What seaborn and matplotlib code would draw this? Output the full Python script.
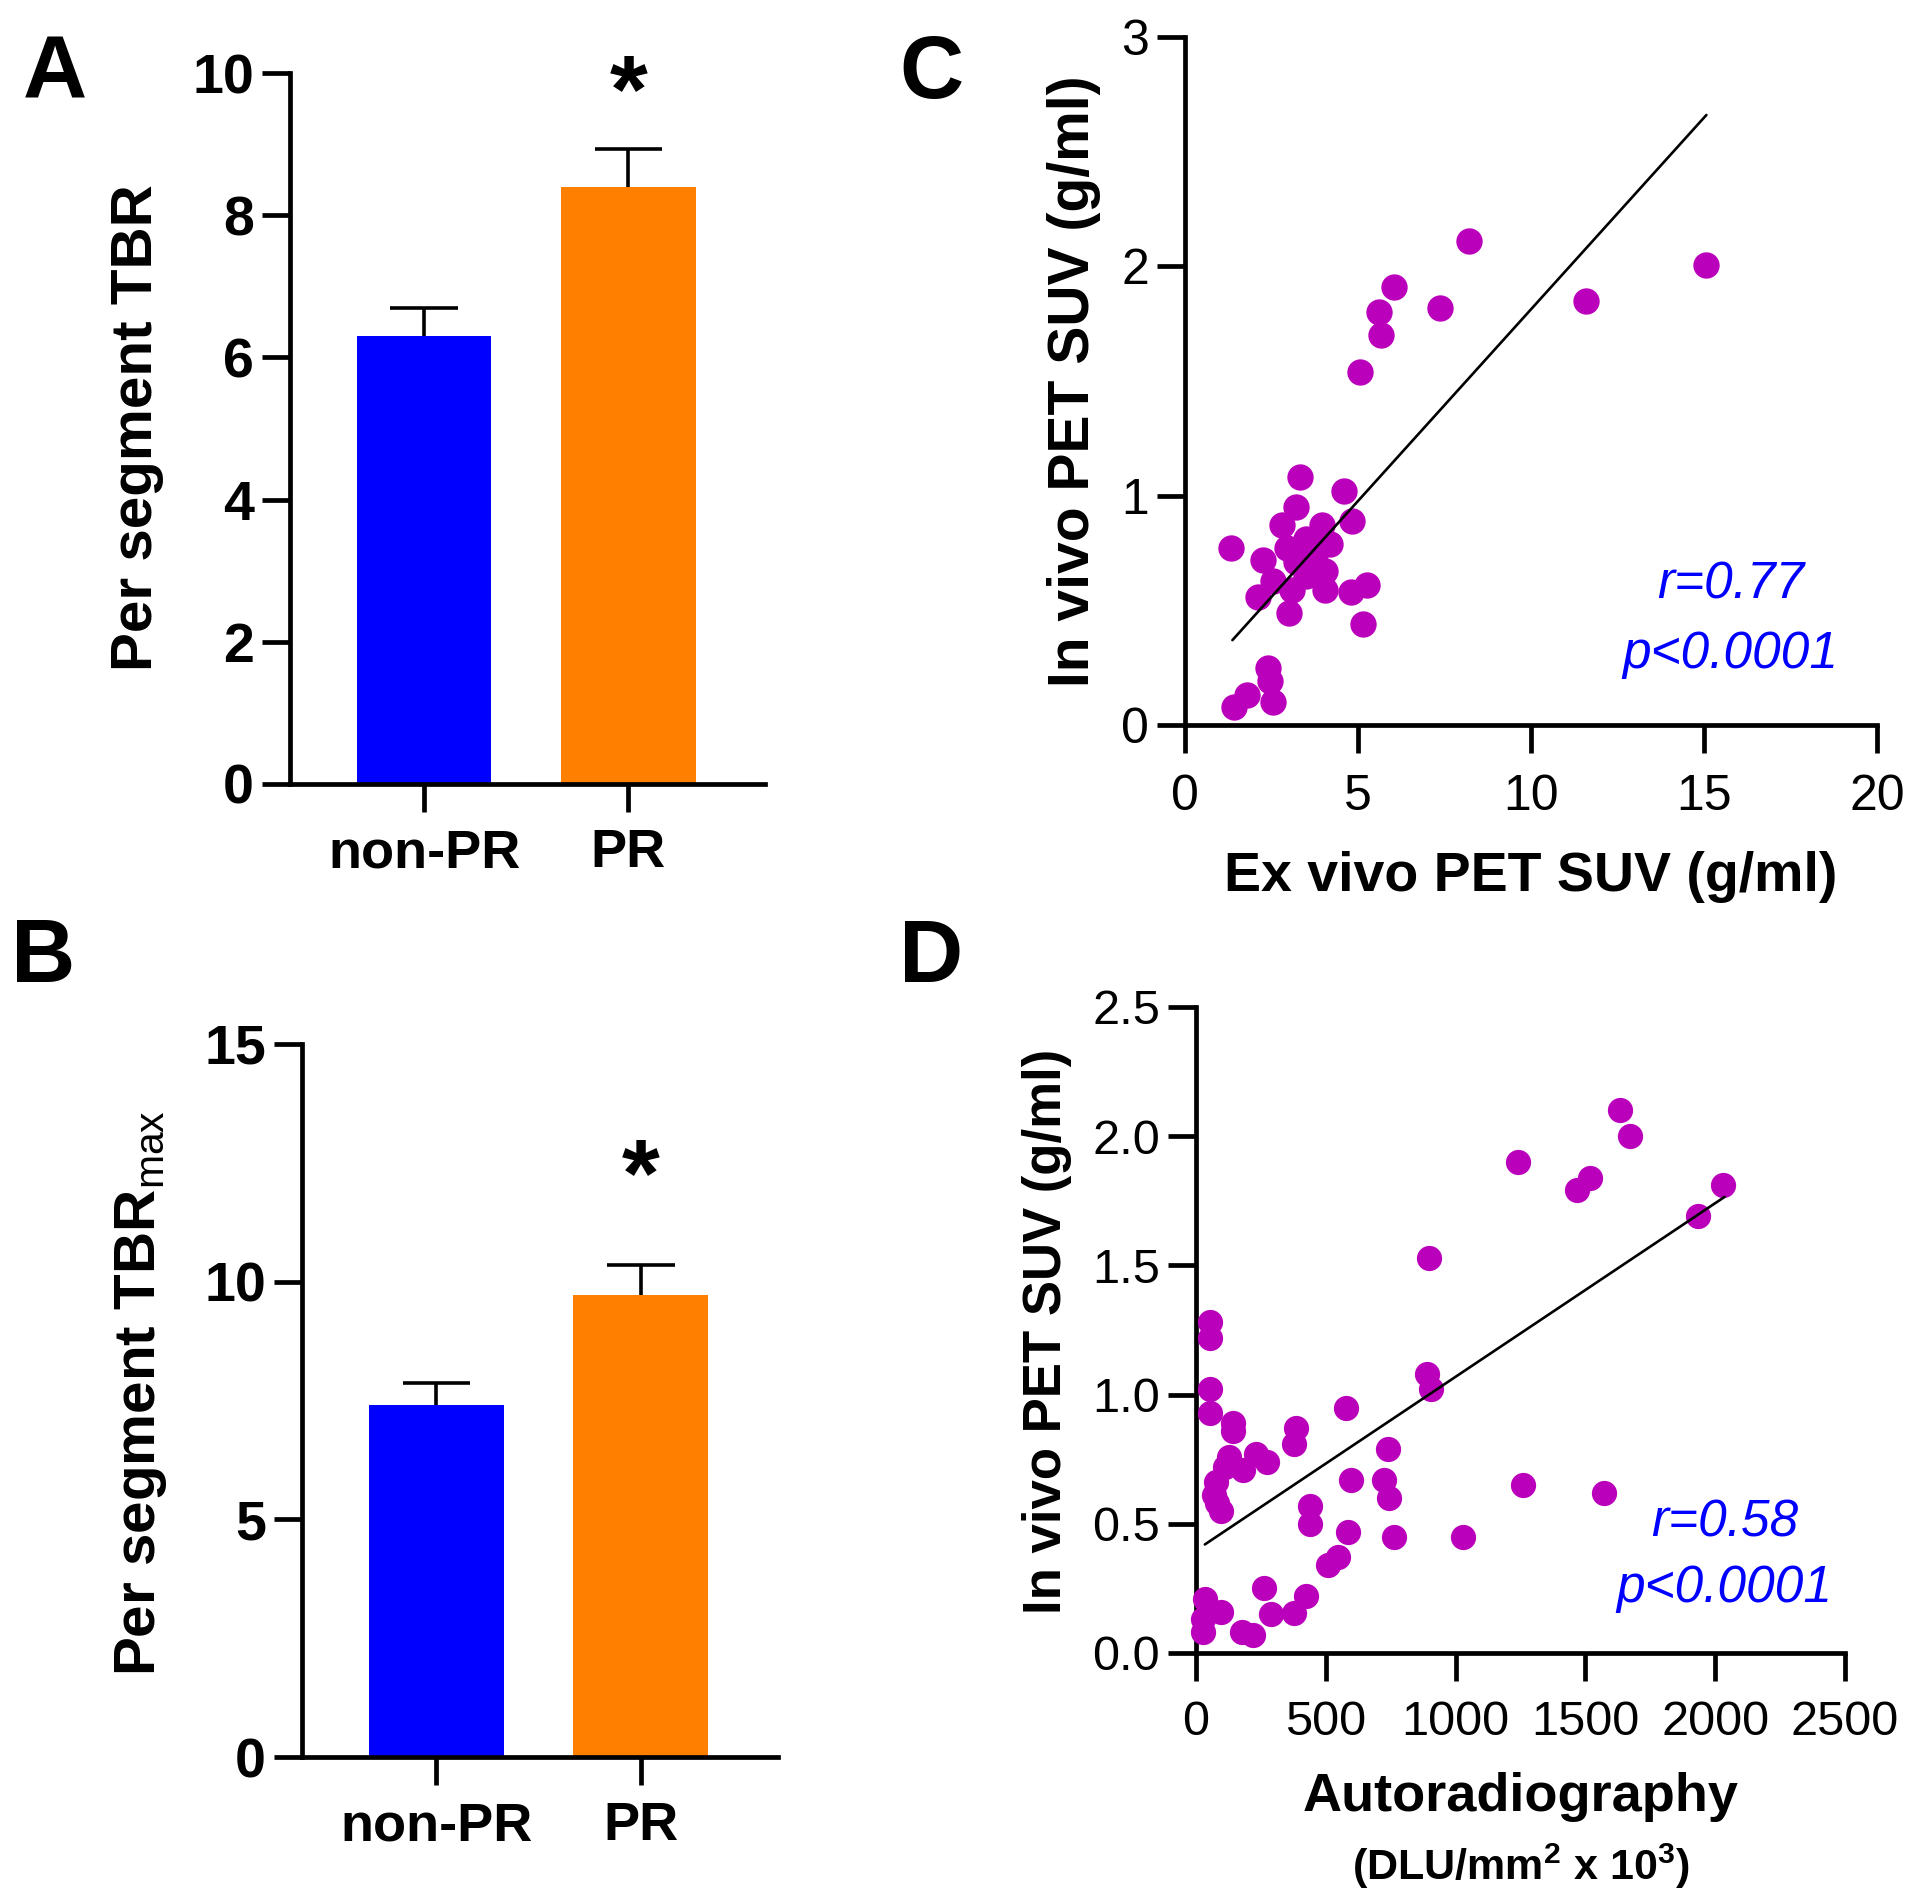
import numpy as np
import pandas as pd
import matplotlib
matplotlib.use("Agg")
import matplotlib.pyplot as plt
import seaborn as sns

# ---------------- data ----------------
categories = ["non-PR", "PR"]
tbr_mean = [6.30, 8.40]
tbr_sem = [0.40, 0.53]
tbrmax_mean = [7.40, 9.73]
tbrmax_sem = [0.47, 0.62]
bar_colors = ["#0000FF", "#FF7F00"]

# Panel C: ex vivo vs in vivo PET SUV
c_x = [8.22, 15.07, 11.58, 6.03, 5.62, 5.66, 7.38, 5.07, 3.32, 4.59, 3.22, 4.84,
       1.34, 2.81, 3.97, 3.49, 4.18, 2.95, 2.26, 3.22, 3.77, 4.04, 3.49, 2.53,
       3.08, 2.12, 4.04, 4.79, 5.27, 3.01, 5.14, 2.40, 2.47, 2.53, 1.78, 1.41]
c_y = [2.11, 2.006, 1.85, 1.91, 1.80, 1.70, 1.82, 1.54, 1.08, 1.02, 0.95, 0.89,
       0.77, 0.87, 0.87, 0.81, 0.79, 0.77, 0.72, 0.71, 0.74, 0.67, 0.65, 0.63,
       0.59, 0.56, 0.59, 0.58, 0.61, 0.49, 0.44, 0.25, 0.19, 0.10, 0.13, 0.08]
c_line_x = [1.37, 15.07]
c_line_y = [0.37, 2.66]

# Panel D: autoradiography vs in vivo PET SUV
d_x = [1632, 1672, 1241, 1517, 1469, 2031, 1933, 899, 55, 55, 890, 907, 55, 55,
       579, 143, 143, 387, 378, 129, 232, 275, 180, 112, 77, 69, 81, 95, 739,
       596, 725, 744, 1259, 1572, 438, 438, 584, 761, 1027, 546, 510, 263, 424,
       378, 287, 34, 95, 26, 26, 177, 218]
d_y = [2.10, 2.00, 1.90, 1.84, 1.79, 1.81, 1.69, 1.53, 1.28, 1.22, 1.08, 1.02,
       1.02, 0.93, 0.95, 0.89, 0.86, 0.87, 0.81, 0.76, 0.77, 0.74, 0.71, 0.72,
       0.66, 0.61, 0.58, 0.55, 0.79, 0.67, 0.67, 0.60, 0.65, 0.62, 0.57, 0.50,
       0.47, 0.45, 0.45, 0.37, 0.34, 0.25, 0.22, 0.155, 0.15, 0.21, 0.16, 0.13,
       0.08, 0.08, 0.07]
d_line_x = [34, 2036]
d_line_y = [0.42, 1.765]

c_ticks_x = [0, 5, 10, 15, 20]
c_ticks_y = [0, 1, 2, 3]
d_ticks_x = [0, 500, 1000, 1500, 2000, 2500]
d_ticks_y = [0.0, 0.5, 1.0, 1.5, 2.0, 2.5]

# ---------------- style ----------------
sns.set_theme(style="ticks")
plt.rcParams["font.family"] = ["Liberation Sans", "DejaVu Sans"]
plt.rcParams["mathtext.fontset"] = "custom"
plt.rcParams["mathtext.rm"] = "Liberation Sans"
plt.rcParams["mathtext.bf"] = "Liberation Sans:bold"
plt.rcParams["mathtext.default"] = "regular"
for key in ["text.color", "axes.labelcolor", "xtick.color", "ytick.color",
            "xtick.labelcolor", "ytick.labelcolor", "axes.edgecolor"]:
    plt.rcParams[key] = "black"

SPINE_W = 3.4
TICK_LEN = 20
DOT = "#BB00BB"

fig = plt.figure(figsize=(19.2, 19.0), dpi=100)
W, H = 1920.0, 1900.0


def add_axes(left, right, top, bottom):
    return fig.add_axes([left / W, 1 - bottom / H, (right - left) / W, (bottom - top) / H])


def style(ax, labelsize, bold, xpad, ypad):
    for s in ["top", "right"]:
        ax.spines[s].set_visible(False)
    for s in ["left", "bottom"]:
        ax.spines[s].set_linewidth(SPINE_W)
        ax.spines[s].set_color("black")
    ax.tick_params(axis="both", direction="out", length=TICK_LEN, width=SPINE_W,
                   color="black", labelsize=labelsize, labelcolor="black")
    ax.tick_params(axis="x", pad=xpad)
    ax.tick_params(axis="y", pad=ypad)
    w = "bold" if bold else "normal"
    for lab in ax.get_xticklabels() + ax.get_yticklabels():
        lab.set_fontweight(w)
    ax.set_facecolor("white")


def bar_panel(ax, means, sems, ymax, yticks, ylabel, star_y, label_x, label_y):
    df = pd.DataFrame({"group": categories, "value": means})
    sns.barplot(data=df, x="group", y="value", hue="group", palette=bar_colors,
                width=0.66, saturation=1, errorbar=None, legend=False, ax=ax,
                linewidth=0)
    xs = np.arange(len(means))
    tops = np.array(means) + np.array(sems)
    ax.vlines(xs, means, tops, color="black", lw=2.6, zorder=3)
    ax.hlines(tops, xs - 0.165, xs + 0.165, color="black", lw=2.6, zorder=3)
    ax.set_xlim(-0.657, 1.67)
    ax.set_ylim(0, ymax)
    ax.set_yticks(yticks)
    ax.set_xlabel("")
    ax.set_ylabel(ylabel, fontsize=42, fontweight="bold", va="center", color="black")
    ax.yaxis.set_label_coords(label_x, label_y)
    style(ax, 39, True, 12, 6)
    for lab in ax.get_yticklabels():
        lab.set_fontsize(40)
    ax.text(1, star_y, "*", ha="center", va="center", fontsize=70,
            fontweight="bold", clip_on=False, color="black")


# Panel A
axA = add_axes(290, 765, 73, 784)
bar_panel(axA, tbr_mean, tbr_sem, 10, [0, 2, 4, 6, 8, 10], "Per segment TBR",
          9.66, -0.322, 0.502)

# Panel B
axB = add_axes(302, 778, 1044, 1757)
bar_panel(axB, tbrmax_mean, tbrmax_sem, 15, [0, 5, 10, 15],
          r"Per segment TBR$_{\mathrm{max}}$", 12.12, -0.338, 0.51)

# Panel C
axC = add_axes(1185, 1877, 37, 725)
sns.scatterplot(x=c_x, y=c_y, ax=axC, color=DOT, s=360, linewidth=0,
                clip_on=False, zorder=3)
axC.plot(c_line_x, c_line_y, color="black", lw=1.9, zorder=4)
axC.set_xlim(0, 20)
axC.set_ylim(0, 3)
axC.set_xticks(c_ticks_x)
axC.set_yticks(c_ticks_y)
axC.set_xlabel("Ex vivo PET SUV (g/ml)", fontsize=40, fontweight="bold", va="center")
axC.xaxis.set_label_coords(0.5, -0.221)
axC.set_ylabel("In vivo PET SUV (g/ml)", fontsize=41, fontweight="bold", va="center")
axC.yaxis.set_label_coords(-0.160, 0.5)
style(axC, 36, False, 15, 6)
axC.text(0.788, 0.203, "r=0.77", transform=axC.transAxes, ha="center",
         va="center", fontsize=37, style="italic", color="#0000FF")
axC.text(0.788, 0.102, "p<0.0001", transform=axC.transAxes, ha="center",
         va="center", fontsize=37, style="italic", color="#0000FF")

# Panel D
axD = add_axes(1196, 1845, 1007, 1653)
sns.scatterplot(x=d_x, y=d_y, ax=axD, color=DOT, s=330, linewidth=0,
                clip_on=False, zorder=3)
axD.plot(d_line_x, d_line_y, color="black", lw=1.9, zorder=4)
axD.set_xlim(0, 2500)
axD.set_ylim(0, 2.5)
axD.set_xticks(d_ticks_x)
axD.set_yticks(d_ticks_y)
axD.set_yticklabels([f"{v:.1f}" for v in d_ticks_y])
axD.set_xlabel("Autoradiography", fontsize=39, fontweight="bold", va="center")
axD.xaxis.set_label_coords(0.5, -0.223)
axD.text(0.5, -0.330, r"(DLU/mm$^{2}$ x 10$^{3}$)", transform=axD.transAxes,
         ha="center", va="center", fontsize=31, fontweight="bold")
axD.set_ylabel("In vivo PET SUV (g/ml)", fontsize=38, fontweight="bold", va="center")
axD.yaxis.set_label_coords(-0.2296, 0.498)
style(axD, 35, False, 14, 6)
axD.text(0.814, 0.201, "r=0.58", transform=axD.transAxes, ha="center",
         va="center", fontsize=37, style="italic", color="#0000FF")
axD.text(0.814, 0.100, "p<0.0001", transform=axD.transAxes, ha="center",
         va="center", fontsize=37, style="italic", color="#0000FF")

# Panel letters
for letter, (px, py) in {"A": (55, 75), "B": (43, 959), "C": (931, 75), "D": (931, 959)}.items():
    fig.text(px / W, 1 - py / H, letter, fontsize=64, fontweight="bold",
             ha="center", va="center", color="black")

fig.savefig("out.png", dpi=100, facecolor="white")
